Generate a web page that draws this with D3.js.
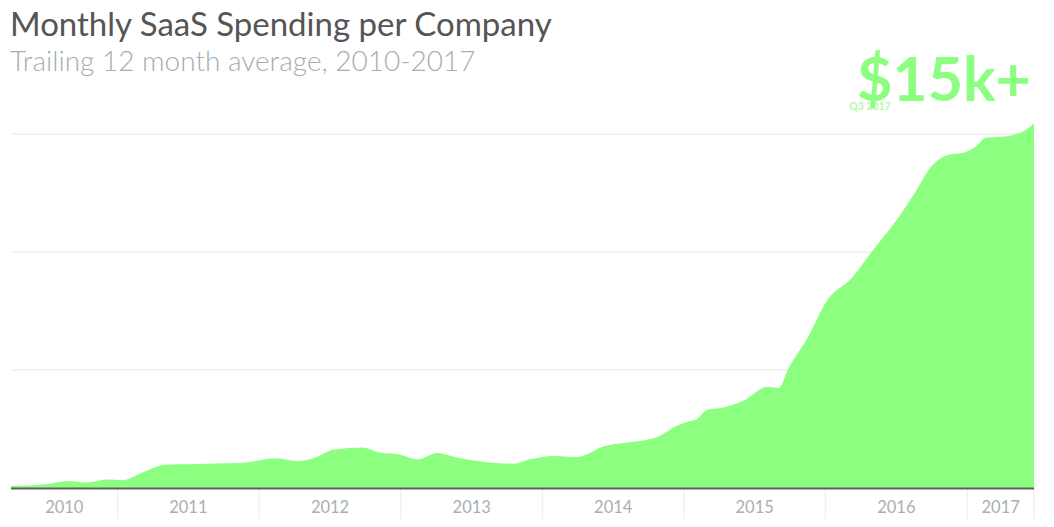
<!DOCTYPE html>
<html>
<head>
<meta charset="utf-8">
<script src="https://cdn.jsdelivr.net/npm/d3@7"></script>
<style>
  html, body { margin: 0; padding: 0; background: #fff; }
  svg { display: block; }
  text { font-family: Lato, "Open Sans", "Noto Sans", sans-serif; }
</style>
</head>
<body>
<svg id="chart" width="1054" height="527"></svg>
<script>
// Trailing 12-month average of monthly SaaS spend per company, in $k
const dates = [
  "2010-04-01","2010-06-28","2010-08-29","2010-10-12","2010-12-05",
  "2011-01-13","2011-03-13","2011-05-04","2011-08-20","2011-11-26",
  "2012-02-14","2012-04-11","2012-05-20","2012-07-13","2012-09-24",
  "2012-11-07","2012-12-28","2013-02-13","2013-04-05","2013-05-22",
  "2013-08-18","2013-10-19","2013-12-02","2014-01-30","2014-04-01",
  "2014-04-16","2014-06-07","2014-08-08","2014-09-18","2014-10-24",
  "2014-12-15","2015-01-10","2015-01-31","2015-03-03","2015-04-06",
  "2015-06-04","2015-08-05","2015-09-02","2015-09-28","2015-11-16",
  "2016-01-07","2016-03-06","2016-05-05","2016-07-01","2016-08-22",
  "2016-09-29","2016-11-07","2016-12-28","2017-01-23","2017-02-18",
  "2017-03-28","2017-05-19","2017-06-22"
];
const spend = [
  0.08, 0.16, 0.30, 0.23, 0.36,
  0.33, 0.71, 0.99, 1.03, 1.08,
  1.26, 1.14, 1.26, 1.63, 1.72,
  1.50, 1.42, 1.21, 1.48, 1.30,
  1.08, 1.03, 1.23, 1.36, 1.31,
  1.37, 1.76, 1.93, 2.01, 2.16,
  2.65, 2.81, 2.89, 3.32, 3.39,
  3.71, 4.29, 4.24, 5.09, 6.37,
  8.00, 8.85, 10.13, 11.32, 12.60,
  13.60, 14.09, 14.24, 14.47, 14.84,
  14.88, 15.06, 15.45
];
const gridValues = [5, 10, 15];
const yearLabels = ["2010","2011","2012","2013","2014","2015","2016","2017"];
const titleText = "Monthly SaaS Spending per Company";
const subtitleText = "Trailing 12 month average, 2010-2017";
const headlineText = "$15k+";
const headlineNote = "Q3 2017";

const parse = d3.timeParse("%Y-%m-%d");
const data = dates.map((d, i) => ({ date: parse(d), value: spend[i] }));

const svg = d3.select("#chart");
const left = 11, right = 1034, baseY = 488, topY = 134;

const x = d3.scaleTime()
  .domain(d3.extent(data, d => d.date))
  .range([left, right]);
const y = d3.scaleLinear().domain([0, 15]).range([baseY, topY]);

// Titles
svg.append("text").attr("x", 10).attr("y", 36)
  .attr("font-size", 33).attr("fill", "#555").text(titleText);
svg.append("text").attr("x", 10).attr("y", 71)
  .attr("font-size", 28).attr("font-weight", 300).attr("fill", "#a4aeb3").text(subtitleText);

// Horizontal gridlines
svg.append("g").selectAll("line").data(gridValues).join("line")
  .attr("x1", left).attr("x2", right)
  .attr("y1", d => y(d)).attr("y2", d => y(d))
  .attr("stroke", "#f2f2f2").attr("stroke-width", 2);

// Headline annotation (small date note sits behind the big figure)
svg.append("text").attr("x", 870).attr("y", 110)
  .attr("text-anchor", "middle").attr("font-size", 10.5).attr("font-weight", 700)
  .attr("fill", "#b4f7ad").text(headlineNote);
svg.append("text").attr("x", 1031).attr("y", 101)
  .attr("text-anchor", "end").attr("font-size", 61).attr("font-weight", 700)
  .attr("fill", "#8cff80").text(headlineText);

// Area
const area = d3.area()
  .x(d => x(d.date))
  .y0(y(0))
  .y1(d => y(d.value))
  .curve(d3.curveMonotoneX);
svg.append("path").datum(data)
  .attr("d", area).attr("fill", "#8cff80");

// Year bands on the x axis
const [d0, d1] = x.domain();
const yearStarts = d3.timeYear.range(d3.timeYear.ceil(d0), d1);
const bounds = [d0, ...yearStarts, d1];
const dividers = [...yearStarts, d1];
svg.append("g").selectAll("line").data(dividers).join("line")
  .attr("x1", d => x(d)).attr("x2", d => x(d))
  .attr("y1", baseY).attr("y2", 519)
  .attr("stroke", "#f0f0f0").attr("stroke-width", 1.5);

svg.append("g").selectAll("text").data(yearLabels).join("text")
  .attr("x", (d, i) => (x(bounds[i]) + x(bounds[i + 1])) / 2)
  .attr("y", 513)
  .attr("text-anchor", "middle").attr("font-size", 16.5)
  .attr("fill", "#a8afb2").text(d => d);

// Baseline
svg.append("line")
  .attr("x1", left).attr("x2", right)
  .attr("y1", baseY + 0.5).attr("y2", baseY + 0.5)
  .attr("stroke", "#5f5f5f").attr("stroke-width", 2);
</script>
</body>
</html>
